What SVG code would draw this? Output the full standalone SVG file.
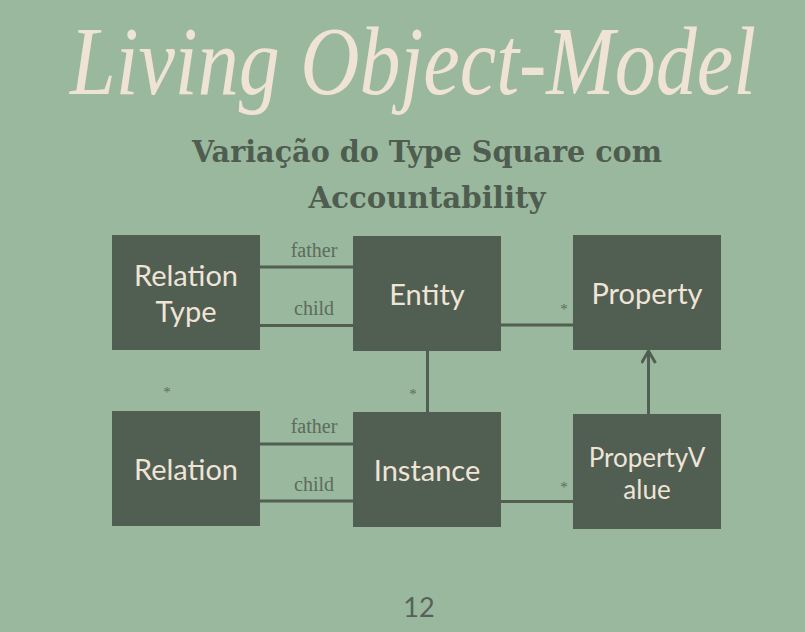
<svg xmlns="http://www.w3.org/2000/svg" width="805" height="632" viewBox="0 0 805 632">
  <style>
    .box { fill: #515e52; }
    .lbl { font-family: "Lato", "Liberation Sans", sans-serif; font-size: 29px; fill: #efe4d6; text-anchor: middle; }
    .role { font-family: "Liberation Serif", serif; font-size: 20px; fill: #5c6b5e; text-anchor: middle; }
    .mult { font-family: "Liberation Serif", serif; font-size: 15px; fill: #5c6b5e; text-anchor: middle; }
    .conn line { stroke: #515e52; stroke-width: 3; fill: none; }
  </style>
  <defs>
    <marker id="open" viewBox="0 0 16 16" refX="14" refY="8" markerWidth="16" markerHeight="16" markerUnits="userSpaceOnUse" orient="auto">
      <path d="M2,1 L14,8 L2,15" fill="none" stroke="#515e52" stroke-width="3"/>
    </marker>
  </defs>

  <rect width="805" height="632" fill="#9ab89d"/>

  <!-- heading -->
  <text transform="translate(413,94) scale(1,1.22)" x="0" y="0" font-family="Liberation Serif, serif" font-style="italic" font-size="80" fill="#efe3d5" text-anchor="middle" textLength="686" lengthAdjust="spacingAndGlyphs">Living Object-Model</text>
  <text x="427" y="162" font-family="DejaVu Serif, serif" font-weight="bold" font-size="30" fill="#4f5d50" text-anchor="middle" textLength="470" lengthAdjust="spacingAndGlyphs">Variação do Type Square com</text>
  <text x="427" y="208" font-family="DejaVu Serif, serif" font-weight="bold" font-size="30" fill="#4f5d50" text-anchor="middle" textLength="237" lengthAdjust="spacingAndGlyphs">Accountability</text>

  <!-- connectors -->
  <g id="connectors" class="conn">
    <line x1="260" y1="267" x2="353" y2="267"/>
    <line x1="260" y1="325.5" x2="353" y2="325.5"/>
    <line x1="501" y1="325" x2="573" y2="325"/>
    <line x1="427.5" y1="351" x2="427.5" y2="412"/>
    <line x1="260" y1="444" x2="353" y2="444"/>
    <line x1="260" y1="501" x2="353" y2="501"/>
    <line x1="501" y1="501.5" x2="573" y2="501.5"/>
    <line x1="648.5" y1="414" x2="648.5" y2="351" marker-end="url(#open)"/>
    <text class="role" x="314" y="257">father</text>
    <text class="role" x="314" y="315">child</text>
    <text class="role" x="314" y="433">father</text>
    <text class="role" x="314" y="491">child</text>
    <text class="mult" x="564" y="314">*</text>
    <text class="mult" x="564" y="492">*</text>
    <text class="mult" x="167" y="397">*</text>
    <text class="mult" x="413" y="399">*</text>
  </g>

  <!-- classes -->
  <g id="relation-type">
    <rect class="box" x="112" y="235" width="148" height="115"/>
    <text class="lbl" x="186" y="286">Relation</text>
    <text class="lbl" x="186" y="322">Type</text>
  </g>
  <g id="entity">
    <rect class="box" x="353" y="236" width="148" height="115"/>
    <text class="lbl" x="427" y="305">Entity</text>
  </g>
  <g id="property">
    <rect class="box" x="573" y="235" width="148" height="115"/>
    <text class="lbl" x="647" y="304">Property</text>
  </g>
  <g id="relation">
    <rect class="box" x="112" y="411" width="148" height="115"/>
    <text class="lbl" x="186" y="480">Relation</text>
  </g>
  <g id="instance">
    <rect class="box" x="353" y="412" width="148" height="115"/>
    <text class="lbl" x="427" y="481">Instance</text>
  </g>
  <g id="property-value">
    <rect class="box" x="573" y="414" width="148" height="115"/>
    <text class="lbl" x="647" y="467" style="font-size:26px">PropertyV</text>
    <text class="lbl" x="647" y="499" style="font-size:26px">alue</text>
  </g>

  <!-- page number -->
  <text x="419" y="617" font-family="Lato, Liberation Sans, sans-serif" font-size="27" fill="#55625a" text-anchor="middle">12</text>
</svg>
